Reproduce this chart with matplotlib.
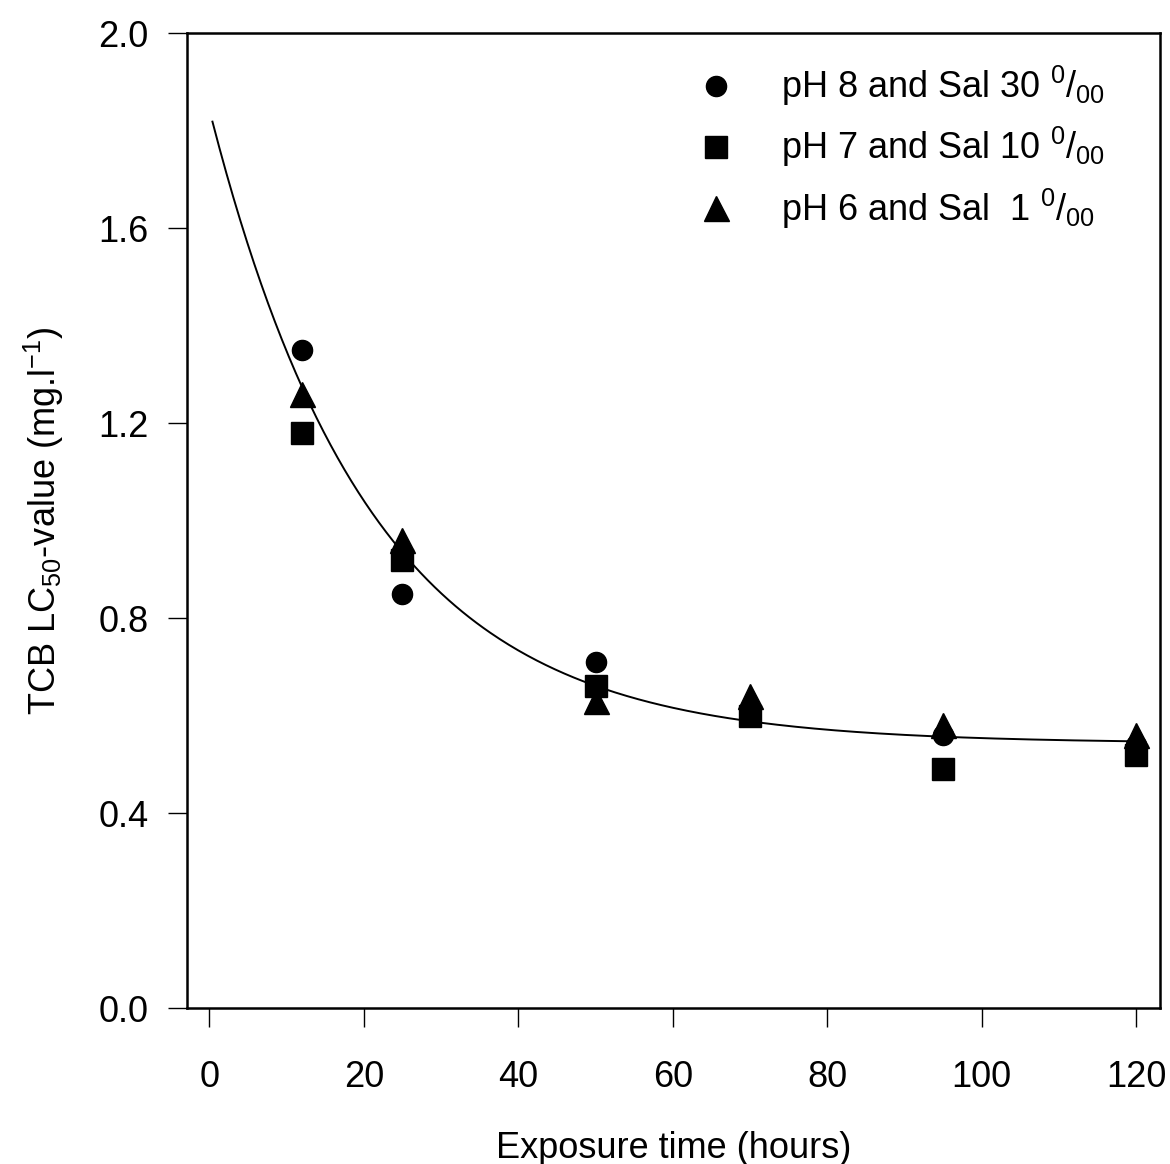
import numpy as np
import matplotlib
matplotlib.use("Agg")
import matplotlib.pyplot as plt
from matplotlib.lines import Line2D

plt.rcParams['font.family'] = ['Liberation Sans', 'DejaVu Sans']
plt.rcParams['mathtext.fontset'] = 'custom'
plt.rcParams['mathtext.rm'] = 'Liberation Sans'
plt.rcParams['mathtext.it'] = 'Liberation Sans:italic'
plt.rcParams['mathtext.bf'] = 'Liberation Sans:bold'

# ---- data ----
hours = [12, 25, 50, 70, 95, 120]
lc50_ph8_sal30 = [1.35, 0.85, 0.71, 0.60, 0.56, 0.54]
lc50_ph7_sal10 = [1.18, 0.92, 0.66, 0.60, 0.49, 0.52]
lc50_ph6_sal1 = [1.26, 0.96, 0.63, 0.64, 0.58, 0.56]

series_labels = [r'pH 8 and Sal 30 $^{0}$/$_{00}$',
                 r'pH 7 and Sal 10 $^{0}$/$_{00}$',
                 r'pH 6 and Sal  1 $^{0}$/$_{00}$']

# fitted exponential decay curve y = a + b*exp(-c*t)
fit_a = 0.543
fit_b = 1.30
fit_c = 0.048
fit_t_start = 0.4
fit_t_end = 120

x_ticks = [0, 20, 40, 60, 80, 100, 120]
y_ticks = [0.0, 0.4, 0.8, 1.2, 1.6, 2.0]

# ---- figure ----
fig = plt.figure(figsize=(11.7, 11.64), dpi=100)
ax = fig.add_axes([0.1598, 0.134, 0.9915 - 0.1598, 0.9716 - 0.134])

t = np.linspace(fit_t_start, fit_t_end, 400)
ax.plot(t, fit_a + fit_b * np.exp(-fit_c * t), color='black', lw=1.4, zorder=2)

ax.plot(hours, lc50_ph8_sal30, 'o', color='black', ms=14.5, ls='none', zorder=3)
ax.plot(hours, lc50_ph7_sal10, 's', color='black', ms=16, ls='none', zorder=3)
ax.plot(hours, lc50_ph6_sal1, '^', color='black', ms=18, ls='none', zorder=3)

ax.set_xlim(-2.9, 123.1)
ax.set_ylim(0.0, 2.0)
ax.set_xticks(x_ticks)
ax.set_yticks(y_ticks)
ax.set_yticklabels([f'{v:.1f}' for v in y_ticks])
ax.set_xticklabels([str(v) for v in x_ticks])

for s in ax.spines.values():
    s.set_linewidth(1.8)
ax.tick_params(axis='both', which='major', direction='out', length=13.5,
               width=1.0, labelsize=26, color='black')
ax.tick_params(axis='y', pad=14)
ax.tick_params(axis='x', pad=24)

ax.set_xlabel('Exposure time (hours)', fontsize=26, labelpad=26)
ax.set_ylabel(r'TCB LC$_{50}$-value (mg.l$^{-1}$)', fontsize=26, labelpad=23)

handles = [Line2D([], [], marker='o', color='black', ls='none', ms=14.5),
           Line2D([], [], marker='s', color='black', ls='none', ms=16),
           Line2D([], [], marker='^', color='black', ls='none', ms=18)]
leg = ax.legend(handles, series_labels, loc='upper left',
                bbox_to_anchor=(0.51, 0.983), frameon=False, fontsize=26,
                handletextpad=1.3, labelspacing=0.47, handlelength=1.0,
                borderaxespad=0.0)

fig.savefig('out.png', dpi=100)
